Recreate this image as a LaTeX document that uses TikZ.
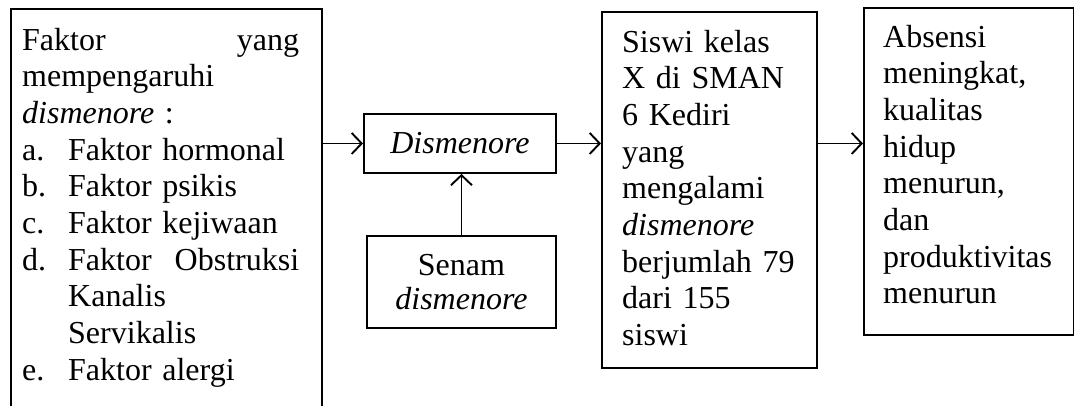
\documentclass[tikz,border=0pt]{standalone}
\usepackage{fontspec}
\setmainfont{Liberation Serif}
\usetikzlibrary{arrows.meta}
\begin{document}
\begin{tikzpicture}[x=1pt,y=-1pt,
 box/.style={draw, line width=1.9pt, rectangle, inner sep=0pt, anchor=north west},
 txt/.style={font=\fontsize{32}{36.7}\selectfont, inner sep=0pt, align=left, anchor=base west},
 arr/.style={line width=1.9pt, -{Straight Barb[length=10pt,width=21pt,line width=1.9pt]}}]
\useasboundingbox (0,0) rectangle (1074,405);
\fill[white] (0,0) rectangle (1074,405);
% boxes
\node[box, minimum width=311pt, minimum height=412pt] (f) at (10,8) {};
\node[box, minimum width=192pt, minimum height=59pt, font=\fontsize{32}{36.7}\selectfont\itshape] (d) at (363,113) {Dismenore};
\node[box, minimum width=189pt, minimum height=92pt, align=center, font=\fontsize{32}{33.5}\selectfont] (s) at (366,235) {Senam\\ \textit{dismenore}};
\node[box, minimum width=215pt, minimum height=356pt] (k) at (601,11) {};
\node[box, minimum width=210pt, minimum height=327pt] (a) at (863,7) {};
% texts
\node[txt, text width=277pt] (ft) at (22,50) {Faktor\hfill yang\\
mempengaruhi\\
\textit{dismenore} :\\
\makebox[46pt][l]{a.}Faktor hormonal\\
\makebox[46pt][l]{b.}Faktor psikis\\
\makebox[46pt][l]{c.}Faktor kejiwaan\\
\makebox[46pt][l]{d.}Faktor\hfill Obstruksi\\
\hspace*{46pt}Kanalis\\
\hspace*{46pt}Servikalis\\
\makebox[46pt][l]{e.}Faktor alergi};
\node[txt, text width=190pt] (kt) at (622,52) {Siswi kelas\\
X di SMAN\\
6 Kediri\\
yang\\
mengalami\\
\textit{dismenore}\\
berjumlah 79\\
dari 155\\
siswi};
\node[txt, text width=185pt] (at) at (883,47) {Absensi\\
meningkat,\\
kualitas\\
hidup\\
menurun,\\
dan\\
produktivitas\\
menurun};
% connectors
\draw[arr] (d.west -| f.east) -- (d.west);
\draw[arr] (s.north) -- (s.north |- d.south);
\draw[arr] (d.east) -- (d.east -| k.west);
\draw[arr] (d.east -| k.east) -- (d.east -| a.west);
\end{tikzpicture}
\end{document}
